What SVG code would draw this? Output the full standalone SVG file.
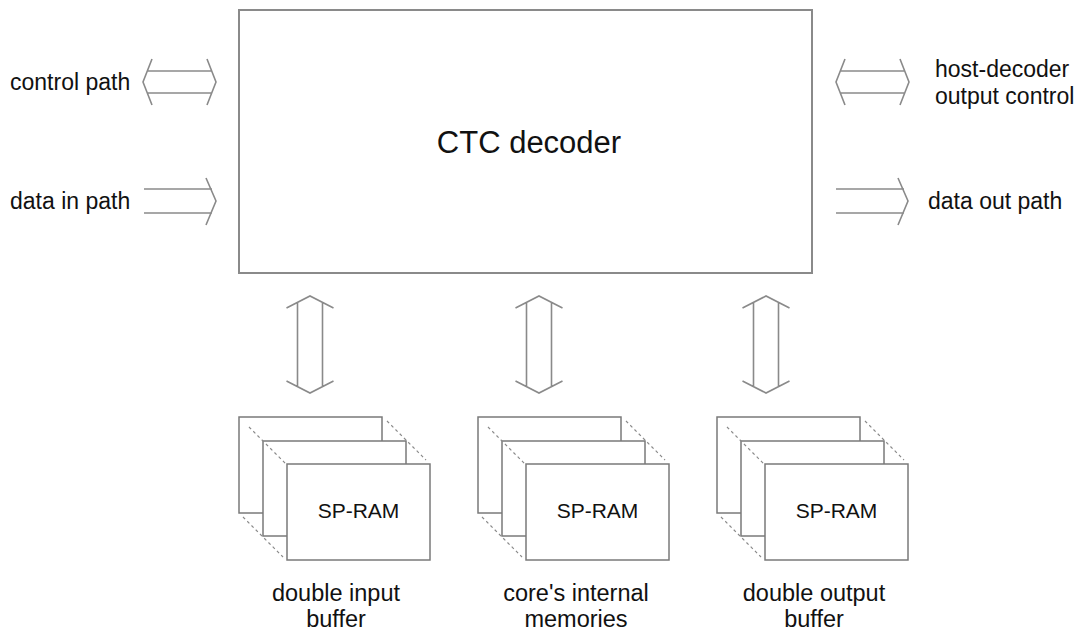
<svg xmlns="http://www.w3.org/2000/svg" width="1090" height="632" viewBox="0 0 1090 632">
<defs>
<style>
.box{fill:#fff;stroke:#8a8a8a;stroke-width:2}
.ram{fill:#fff;stroke:#7a7a7a;stroke-width:1.5}
.dash{fill:none;stroke:#8a8a8a;stroke-width:1.2;stroke-dasharray:3 3}
.arr{fill:none;stroke:#8a8a8a;stroke-width:1.6}
.t{font-family:"Liberation Sans",Arial,sans-serif;font-size:23px;fill:#111}
.tc{font-family:"Liberation Sans",Arial,sans-serif;font-size:23.5px;fill:#111;text-anchor:middle}
.sp{font-family:"Liberation Sans",Arial,sans-serif;font-size:21px;fill:#111;text-anchor:middle}
</style>
<g id="stack">
<rect class="ram" x="0" y="0" width="143" height="96"/>
<rect class="ram" x="24" y="24" width="143" height="95"/>
<line class="dash" x1="10" y1="10" x2="47" y2="47"/>
<line class="dash" x1="148" y1="4" x2="187" y2="43"/>
<line class="dash" x1="4" y1="100" x2="44" y2="140"/>
<rect class="ram" x="48" y="47" width="143" height="96"/>
<text class="sp" x="119.5" y="101">SP-RAM</text>
</g>
<g id="varrow">
<path class="arr" d="M-23.5,12 L0,0 L23.5,12 M-23.5,85 L0,97 L23.5,85 M-12.5,6.5 V90.5 M12.5,6.5 V90.5"/>
</g>
</defs>

<g id="ctc-decoder">
<rect class="box" x="239" y="10" width="573" height="263"/>
<text x="529" y="153" style="font-family:'Liberation Sans',Arial,sans-serif;font-size:31px;fill:#111;text-anchor:middle">CTC decoder</text>
</g>

<g id="connectors">
<path id="control-path-arrow" class="arr" d="M152,59 L143,82 L152,105 M207,59 L216,82 L207,105 M147.3,71 H211.7 M147.3,93 H211.7"/>
<path id="data-in-arrow" class="arr" d="M144,189 H212 M144,213 H212 M206,178 L216,201 L206,225"/>
<path id="host-decoder-arrow" class="arr" d="M845,59 L836,82 L845,105 M900,59 L909,82 L900,105 M840.3,71 H904.7 M840.3,93 H904.7"/>
<path id="data-out-arrow" class="arr" d="M836,189 H904 M836,213 H904 M898,178 L908,201 L898,225"/>
<use href="#varrow" x="310" y="296"/>
<use href="#varrow" x="539" y="296"/>
<use href="#varrow" x="766" y="296"/>
</g>

<g id="labels">
<text class="t" x="10" y="90">control path</text>
<text class="t" x="10" y="209">data in path</text>
<text class="t" x="935" y="77">host-decoder</text>
<text class="t" x="935" y="104">output control</text>
<text class="t" x="928" y="209">data out path</text>
</g>

<g id="double-input-buffer">
<use href="#stack" x="239" y="417"/>
<text class="tc" x="336" y="601">double input</text>
<text class="tc" x="336" y="627">buffer</text>
</g>
<g id="core-internal-memories">
<use href="#stack" x="478" y="417"/>
<text class="tc" x="576" y="601">core's internal</text>
<text class="tc" x="576" y="627">memories</text>
</g>
<g id="double-output-buffer">
<use href="#stack" x="717" y="417"/>
<text class="tc" x="814" y="601">double output</text>
<text class="tc" x="814" y="627">buffer</text>
</g>
</svg>
